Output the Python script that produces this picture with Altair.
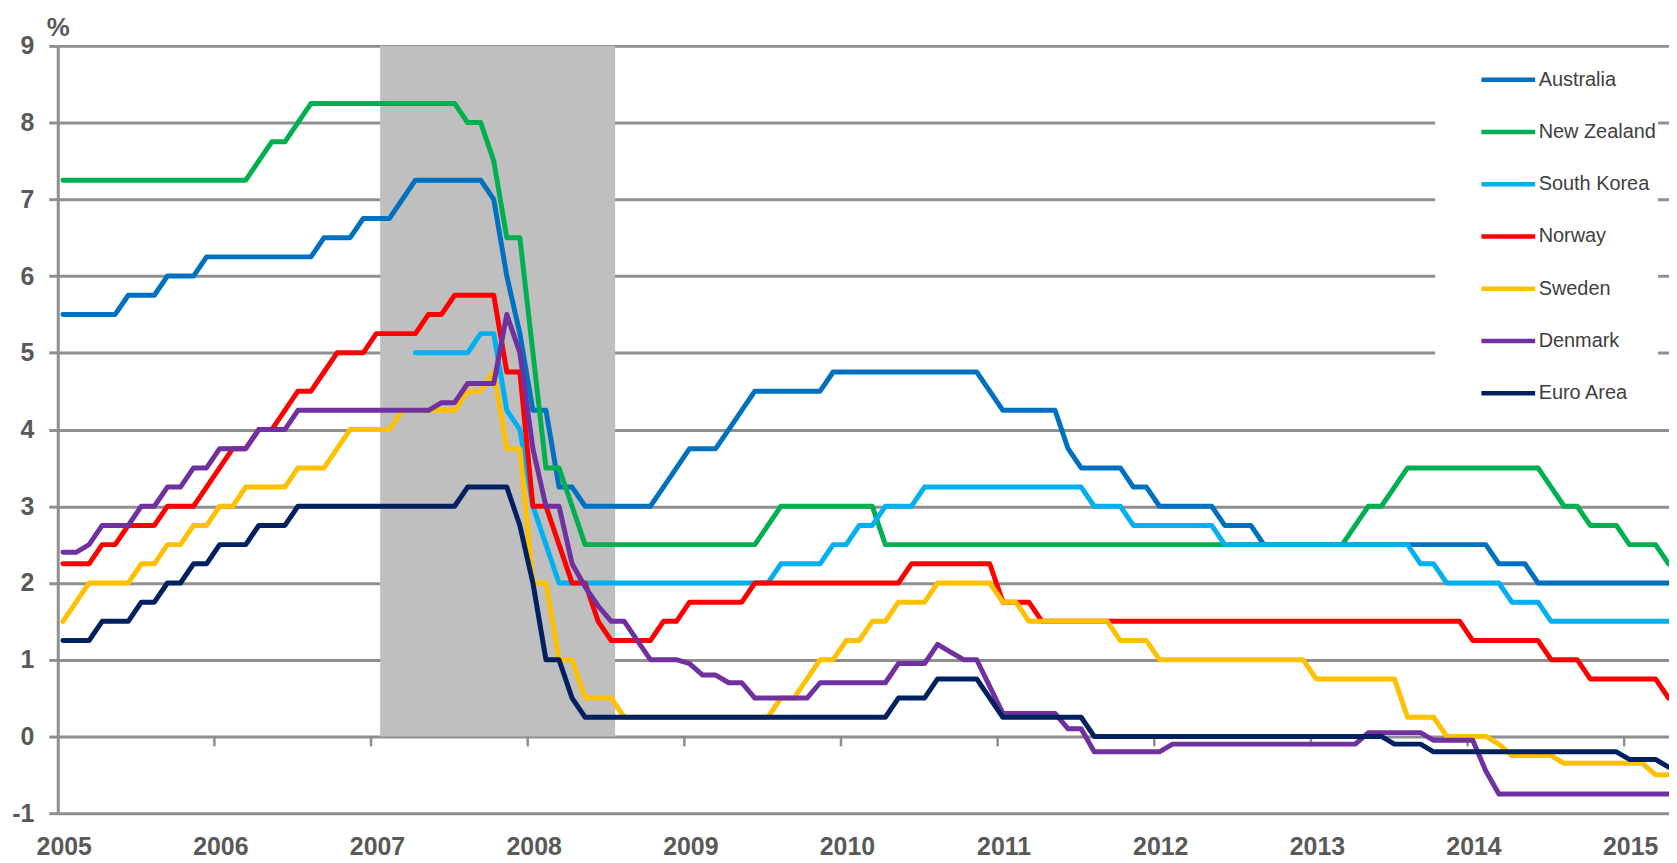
import altair as alt
import pandas as pd

countries = ["Australia", "New Zealand", "South Korea", "Norway", "Sweden", "Denmark", "Euro Area"]
colors = ["#0070C0", "#00B050", "#00B0F0", "#FF0000", "#FFC000", "#7030A0", "#002060"]

# Monthly policy rates (%), one value per month from the first plotted month (index 0)
australia = [5.5, 5.5, 5.5, 5.5, 5.5, 5.75, 5.75, 5.75, 6.0, 6.0, 6.0,
             6.25, 6.25, 6.25, 6.25, 6.25, 6.25, 6.25, 6.25, 6.25,
             6.5, 6.5, 6.5, 6.75, 6.75, 6.75, 7.0,
             7.25, 7.25, 7.25, 7.25, 7.25, 7.25, 7.0, 6.0, 5.25, 4.25, 4.25,
             3.25, 3.25, 3.0, 3.0, 3.0, 3.0, 3.0, 3.0, 3.25, 3.5, 3.75, 3.75, 3.75,
             4.0, 4.25, 4.5, 4.5, 4.5, 4.5, 4.5, 4.5,
             4.75, 4.75, 4.75, 4.75, 4.75, 4.75, 4.75, 4.75, 4.75, 4.75, 4.75, 4.75,
             4.5, 4.25, 4.25, 4.25, 4.25, 4.25, 3.75, 3.5, 3.5, 3.5, 3.5,
             3.25, 3.25, 3.0, 3.0, 3.0, 3.0, 3.0, 2.75, 2.75, 2.75,
             2.5, 2.5, 2.5, 2.5, 2.5, 2.5, 2.5, 2.5, 2.5, 2.5, 2.5, 2.5, 2.5, 2.5, 2.5, 2.5, 2.5, 2.5,
             2.25, 2.25, 2.25,
             2.0, 2.0, 2.0, 2.0, 2.0, 2.0, 2.0, 2.0, 2.0, 2.0, 2.0]
new_zealand = [7.25, 7.25, 7.25, 7.25, 7.25, 7.25, 7.25, 7.25, 7.25, 7.25, 7.25, 7.25, 7.25, 7.25, 7.25,
               7.5, 7.75, 7.75, 8.0,
               8.25, 8.25, 8.25, 8.25, 8.25, 8.25, 8.25, 8.25, 8.25, 8.25, 8.25, 8.25,
               8.0, 8.0, 7.5, 6.5, 6.5, 5.0, 3.5, 3.5, 3.0,
               2.5, 2.5, 2.5, 2.5, 2.5, 2.5, 2.5, 2.5, 2.5, 2.5, 2.5, 2.5, 2.5, 2.5,
               2.75, 3.0, 3.0, 3.0, 3.0, 3.0, 3.0, 3.0, 3.0,
               2.5, 2.5, 2.5, 2.5, 2.5, 2.5, 2.5, 2.5, 2.5, 2.5, 2.5, 2.5,
               2.5, 2.5, 2.5, 2.5, 2.5, 2.5, 2.5, 2.5, 2.5, 2.5, 2.5, 2.5,
               2.5, 2.5, 2.5, 2.5, 2.5, 2.5, 2.5, 2.5, 2.5, 2.5, 2.5, 2.5,
               2.75, 3.0, 3.0, 3.25,
               3.5, 3.5, 3.5, 3.5, 3.5, 3.5, 3.5, 3.5, 3.5, 3.5, 3.5,
               3.25, 3.0, 3.0, 2.75, 2.75, 2.75, 2.5, 2.5, 2.5, 2.25]
south_korea_start = 27
south_korea = [5.0, 5.0, 5.0, 5.0, 5.0, 5.25, 5.25, 4.25, 4.0, 3.0, 2.5,
               2.0, 2.0, 2.0, 2.0, 2.0, 2.0, 2.0, 2.0, 2.0, 2.0, 2.0, 2.0, 2.0, 2.0, 2.0, 2.0, 2.0,
               2.25, 2.25, 2.25, 2.25, 2.5, 2.5, 2.75, 2.75, 3.0, 3.0, 3.0,
               3.25, 3.25, 3.25, 3.25, 3.25, 3.25, 3.25, 3.25, 3.25, 3.25, 3.25, 3.25, 3.25,
               3.0, 3.0, 3.0, 2.75, 2.75, 2.75, 2.75, 2.75, 2.75, 2.75,
               2.5, 2.5, 2.5, 2.5, 2.5, 2.5, 2.5, 2.5, 2.5, 2.5, 2.5, 2.5, 2.5, 2.5, 2.5,
               2.25, 2.25, 2.0, 2.0, 2.0, 2.0, 2.0, 1.75, 1.75, 1.75,
               1.5, 1.5, 1.5, 1.5, 1.5, 1.5, 1.5, 1.5, 1.5, 1.5]
norway = [2.25, 2.25, 2.25, 2.5, 2.5, 2.75, 2.75, 2.75, 3.0, 3.0, 3.0,
          3.25, 3.5, 3.75, 3.75, 4.0, 4.0, 4.25, 4.5, 4.5, 4.75, 5.0, 5.0, 5.0,
          5.25, 5.25, 5.25, 5.25, 5.5, 5.5, 5.75, 5.75, 5.75, 5.75,
          4.75, 4.75, 3.0, 3.0, 2.5, 2.0, 2.0, 1.5, 1.25, 1.25, 1.25, 1.25, 1.5, 1.5,
          1.75, 1.75, 1.75, 1.75, 1.75,
          2.0, 2.0, 2.0, 2.0, 2.0, 2.0, 2.0, 2.0, 2.0, 2.0, 2.0, 2.0,
          2.25, 2.25, 2.25, 2.25, 2.25, 2.25, 2.25, 1.75, 1.75, 1.75,
          1.5, 1.5, 1.5, 1.5, 1.5, 1.5, 1.5, 1.5, 1.5, 1.5, 1.5,
          1.5, 1.5, 1.5, 1.5, 1.5, 1.5, 1.5, 1.5, 1.5, 1.5, 1.5,
          1.5, 1.5, 1.5, 1.5, 1.5, 1.5, 1.5, 1.5, 1.5, 1.5, 1.5,
          1.25, 1.25, 1.25, 1.25, 1.25, 1.25, 1.0, 1.0, 1.0,
          0.75, 0.75, 0.75, 0.75, 0.75, 0.75, 0.5]
sweden = [1.5, 1.75, 2.0, 2.0, 2.0, 2.0, 2.25, 2.25, 2.5, 2.5, 2.75, 2.75, 3.0, 3.0,
          3.25, 3.25, 3.25, 3.25, 3.5, 3.5, 3.5, 3.75, 4.0, 4.0, 4.0, 4.0,
          4.25, 4.25, 4.25, 4.25, 4.25, 4.5, 4.5, 4.75, 3.75, 3.75, 2.0, 2.0, 1.0, 1.0,
          0.5, 0.5, 0.5,
          0.25, 0.25, 0.25, 0.25, 0.25, 0.25, 0.25, 0.25, 0.25, 0.25, 0.25, 0.25,
          0.5, 0.5, 0.75, 1.0, 1.0, 1.25, 1.25, 1.5, 1.5, 1.75, 1.75, 1.75,
          2.0, 2.0, 2.0, 2.0, 2.0, 1.75, 1.75, 1.5, 1.5, 1.5, 1.5, 1.5, 1.5, 1.5,
          1.25, 1.25, 1.25,
          1.0, 1.0, 1.0, 1.0, 1.0, 1.0, 1.0, 1.0, 1.0, 1.0, 1.0, 1.0,
          0.75, 0.75, 0.75, 0.75, 0.75, 0.75, 0.75, 0.25, 0.25, 0.25,
          0.0, 0.0, 0.0, 0.0, -0.1, -0.25, -0.25, -0.25, -0.25,
          -0.35, -0.35, -0.35, -0.35, -0.35, -0.35, -0.35, -0.5, -0.5]
denmark = [2.4, 2.4, 2.5, 2.75, 2.75, 2.75, 3.0, 3.0, 3.25, 3.25, 3.5, 3.5,
           3.75, 3.75, 3.75, 4.0, 4.0, 4.0,
           4.25, 4.25, 4.25, 4.25, 4.25, 4.25, 4.25, 4.25, 4.25, 4.25, 4.25,
           4.35, 4.35, 4.6, 4.6, 4.6, 5.5, 5.0, 3.75, 3.0, 3.0, 2.25, 1.95, 1.7,
           1.5, 1.5, 1.25, 1.0, 1.0, 1.0, 0.95, 0.8, 0.8, 0.7, 0.7,
           0.5, 0.5, 0.5, 0.5, 0.5, 0.7, 0.7, 0.7, 0.7, 0.7, 0.7,
           0.95, 0.95, 0.95, 1.2, 1.1, 1.0, 1.0, 0.65,
           0.3, 0.3, 0.3, 0.3, 0.3, 0.1, 0.1,
           -0.2, -0.2, -0.2, -0.2, -0.2, -0.2,
           -0.1, -0.1, -0.1, -0.1, -0.1, -0.1, -0.1, -0.1, -0.1, -0.1, -0.1, -0.1, -0.1, -0.1, -0.1,
           0.05, 0.05, 0.05, 0.05, 0.05, -0.05, -0.05, -0.05, -0.05, -0.45,
           -0.75, -0.75, -0.75, -0.75, -0.75, -0.75, -0.75, -0.75, -0.75, -0.75, -0.75, -0.75, -0.75, -0.75]
euro_area = [1.25, 1.25, 1.25, 1.5, 1.5, 1.5, 1.75, 1.75, 2.0, 2.0, 2.25, 2.25,
             2.5, 2.5, 2.5, 2.75, 2.75, 2.75,
             3.0, 3.0, 3.0, 3.0, 3.0, 3.0, 3.0, 3.0, 3.0, 3.0, 3.0, 3.0, 3.0,
             3.25, 3.25, 3.25, 3.25, 2.75, 2.0, 1.0, 1.0, 0.5,
             0.25, 0.25, 0.25, 0.25, 0.25, 0.25, 0.25, 0.25, 0.25, 0.25, 0.25, 0.25,
             0.25, 0.25, 0.25, 0.25, 0.25, 0.25, 0.25, 0.25, 0.25, 0.25, 0.25, 0.25,
             0.5, 0.5, 0.5, 0.75, 0.75, 0.75, 0.75, 0.5,
             0.25, 0.25, 0.25, 0.25, 0.25, 0.25, 0.25,
             0.0, 0.0, 0.0, 0.0, 0.0, 0.0, 0.0, 0.0, 0.0, 0.0, 0.0, 0.0,
             0.0, 0.0, 0.0, 0.0, 0.0, 0.0, 0.0, 0.0, 0.0, 0.0, 0.0,
             -0.1, -0.1, -0.1,
             -0.2, -0.2, -0.2, -0.2, -0.2, -0.2, -0.2, -0.2, -0.2, -0.2, -0.2, -0.2, -0.2, -0.2, -0.2,
             -0.3, -0.3, -0.3, -0.4]

year_ticks = list(range(2005, 2016))
y_ticks = list(range(-1, 10))
shade_months = [24.3, 42.3]      # shaded period, month index
shade_levels = [0, 9]

GRID = "#8F8F8F"
TEXT = "#595959"
FONT = "Liberation Sans"
X_MAX = 2015.286


def month_to_year(k):
    return 2005 + (k + 0.4) / 12.0


series = {
    "Australia": (0, australia),
    "New Zealand": (0, new_zealand),
    "South Korea": (south_korea_start, south_korea),
    "Norway": (0, norway),
    "Sweden": (0, sweden),
    "Denmark": (0, denmark),
    "Euro Area": (0, euro_area),
}
rows = []
for c in countries:
    start, vals = series[c]
    for i, v in enumerate(vals):
        rows.append({"country": c, "x": month_to_year(start + i), "y": v})
df = pd.DataFrame(rows)

X = alt.X("x:Q",
          scale=alt.Scale(domain=[2005, X_MAX], nice=False, zero=False),
          axis=alt.Axis(values=year_ticks, format="d", grid=False, domain=False, ticks=False,
                        labelFont=FONT, labelFontSize=25, labelFontWeight="bold",
                        labelColor=TEXT, labelPadding=22, labelOffset=6,
                        labelFlush=False, labelOverlap=False, title=None))
Y = alt.Y("y:Q",
          scale=alt.Scale(domain=[-1, 9], nice=False, zero=False),
          axis=alt.Axis(values=y_ticks, labelExpr="'' + datum.value", grid=True,
                        gridColor=GRID, gridWidth=3,
                        domain=True, domainColor=GRID, domainWidth=3,
                        ticks=True, tickColor=GRID, tickWidth=3, tickSize=9,
                        labelFont=FONT, labelFontSize=25, labelFontWeight="bold",
                        labelColor=TEXT, labelPadding=15, title=None))

legend = alt.Legend(orient="none", legendX=1384, legendY=3, title=None,
                    symbolType="stroke", symbolSize=2916, symbolStrokeWidth=4.5,
                    symbolOffset=42.5, labelOffset=1, rowPadding=12.5, padding=1.5,
                    fillColor="white", labelFont=FONT, labelFontSize=20, labelColor="#404040",
                    labelLimit=400,
                    labelExpr="datum.label + '\u00a0\u00a0'")
COLOR = alt.Color("country:N", scale=alt.Scale(domain=countries, range=colors), legend=legend)

shade_df = pd.DataFrame({"x": [month_to_year(shade_months[0])], "x2": [month_to_year(shade_months[1])],
                         "y": [shade_levels[0]], "y2": [shade_levels[1]]})
shade = alt.Chart(shade_df).mark_rect(color="#BFBFBF").encode(x=X, x2="x2:Q", y=Y, y2="y2:Q")

tick_df = pd.DataFrame({"x": year_ticks[1:], "y": [0] * (len(year_ticks) - 1)})
xticks = alt.Chart(tick_df).mark_tick(orient="vertical", size=10, thickness=2.5, color=GRID,
                                      opacity=1, yOffset=5).encode(x=X, y=Y)

base = alt.Chart(df)
lines = [
    base.transform_filter(alt.datum.country == c)
    .mark_line(strokeWidth=5, strokeCap="round", strokeJoin="round", clip=True)
    .encode(x=X, y=Y, color=COLOR)
    for c in countries
]

chart = alt.layer(shade, xticks, *lines).properties(
    width=1619, height=771,
    padding={"left": 50, "top": 36, "right": 0, "bottom": 48},
    autosize=alt.AutoSizeParams(type="none"),
    title=alt.TitleParams("%", anchor="start", frame="group", fontSize=26, fontWeight="bold",
                          color=TEXT, font=FONT, dx=-11, dy=9, offset=2),
).configure_view(stroke=None)

chart.save("out.html", embed_options={"renderer": "svg", "actions": False})
